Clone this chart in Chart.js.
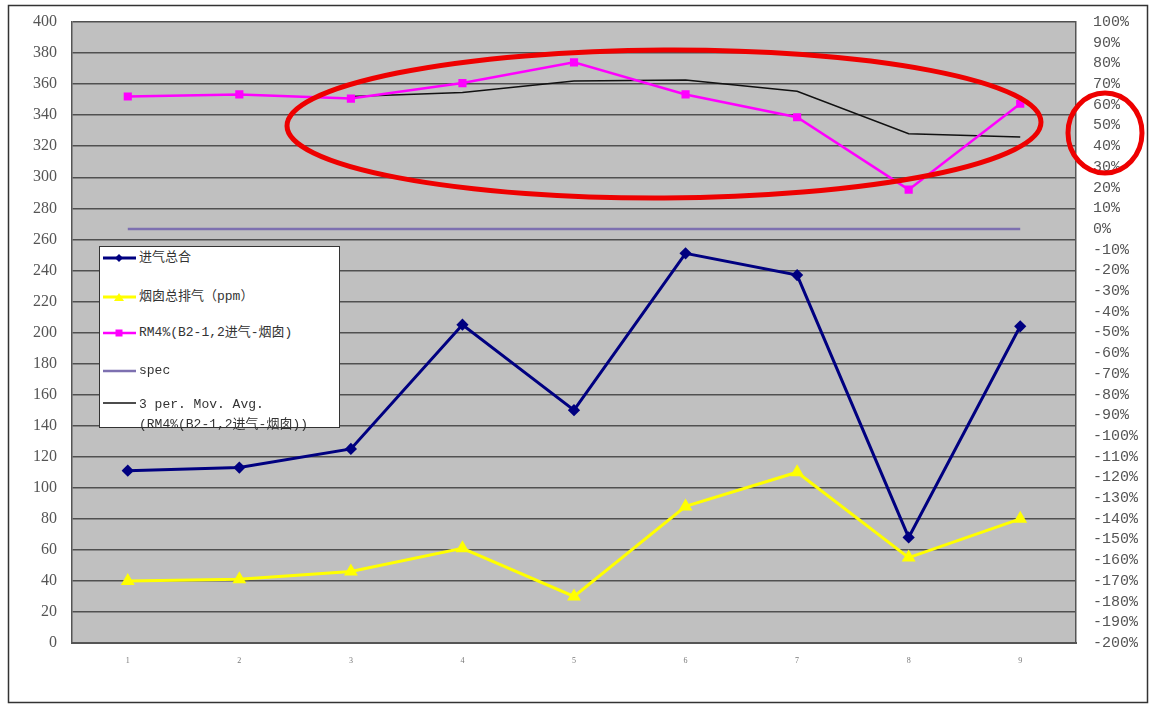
<!DOCTYPE html>
<html>
<head>
<meta charset="utf-8">
<script src="https://cdn.jsdelivr.net/npm/chart.js@4.4.1/dist/chart.umd.min.js"></script>
<style>
  body { margin: 0; background: #fff; }
  #wrap { position: relative; width: 1149px; height: 704px; }
  #legend {
    position: absolute; left: 99px; top: 246px; width: 241px; height: 182px;
    background: #fff; border: 1px solid #333; box-sizing: border-box;
    font-family: "Liberation Mono", "Noto Sans CJK SC", monospace; font-size: 13px; color: #333;
  }
  .item { position: absolute; left: 3px; line-height: 16px; white-space: nowrap; }
  .item svg { vertical-align: middle; margin-right: 3px; }
</style>
</head>
<body>
<div id="wrap">
  <canvas id="chart" width="1149" height="704"></canvas>
  <div id="legend"></div>
</div>
<script>
"use strict";

const categories = ["1", "2", "3", "4", "5", "6", "7", "8", "9"];
const intakeTotal = [111, 113, 125, 205, 150, 251, 237, 68, 204];
const stackTotal = [40, 41, 46, 61, 30, 88, 110, 55, 80];
const rm4Percent = [64, 65, 63, 70.5, 80.5, 65, 54, 19, 60.5];
const specPercent = [0, 0, 0, 0, 0, 0, 0, 0, 0];
const movAvgPercent = [null, null, 64, 66, 71.5, 72, 66.5, 46, 44.5];

const leftTicks = { min: 0, max: 400, step: 20 };
const rightTicks = { min: -200, max: 100, step: 10 };

const legendNames = [
  "进气总合",
  "烟囱总排气（ppm）",
  "RM4%(B2-1,2进气-烟囱)",
  "spec",
  "3 per. Mov. Avg.<br>(RM4%(B2-1,2进气-烟囱))"
];

// plot background, outer frame
const framePlugin = {
  id: "frame",
  beforeDraw(chart) {
    const c = chart.ctx, a = chart.chartArea;
    c.save();
    c.fillStyle = "#fff";
    c.fillRect(0, 0, chart.width, chart.height);
    c.fillStyle = "#c0c0c0";
    c.fillRect(a.left, a.top, a.right - a.left, a.bottom - a.top);
    c.strokeStyle = "#333";
    c.lineWidth = 1.5;
    c.strokeRect(8.5, 5.5, 1139, 697);
    c.restore();
  },
  afterDraw(chart) {
    // red hand-drawn marks on the picture
    const c = chart.ctx;
    c.save();
    c.strokeStyle = "#ee0000";
    c.lineWidth = 5;
    c.beginPath();
    c.ellipse(664, 124, 377, 74, -0.005, 0, Math.PI * 2);
    c.stroke();
    c.beginPath();
    c.ellipse(1105, 133, 37, 40, 0, 0, Math.PI * 2);
    c.stroke();
    c.restore();
  }
};

function fixWidth(w) {
  return s => { s.width = w; s.paddingTop = 0; s.paddingBottom = 0; };
}

var ctx = document.getElementById("chart").getContext("2d");
var chart = new Chart(ctx, {
  type: "line",
  data: {
    labels: categories,
    datasets: [
      {
        label: legendNames[0],
        data: intakeTotal,
        yAxisID: "y",
        borderColor: "#000080",
        backgroundColor: "#000080",
        borderWidth: 3,
        pointStyle: "rectRot",
        pointRadius: 4,
        order: 3
      },
      {
        label: legendNames[1],
        data: stackTotal,
        yAxisID: "y",
        borderColor: "#ffff00",
        backgroundColor: "#ffff00",
        borderWidth: 3,
        pointStyle: "triangle",
        pointRadius: 5,
        order: 4
      },
      {
        label: legendNames[2],
        data: rm4Percent,
        yAxisID: "y1",
        borderColor: "#ff00ff",
        backgroundColor: "#ff00ff",
        borderWidth: 2.5,
        pointStyle: "rect",
        pointRadius: 4,
        order: 1
      },
      {
        label: legendNames[3],
        data: specPercent,
        yAxisID: "y1",
        borderColor: "#7d70b0",
        borderWidth: 2.5,
        pointRadius: 0,
        order: 5
      },
      {
        label: "3 per. Mov. Avg.",
        data: movAvgPercent,
        yAxisID: "y1",
        borderColor: "#111",
        borderWidth: 1.5,
        pointRadius: 0,
        order: 2
      }
    ]
  },
  options: {
    responsive: false,
    animation: false,
    devicePixelRatio: 1,
    layout: { padding: { top: 22, left: 0, right: 0, bottom: 0 } },
    plugins: { legend: { display: false }, tooltip: { enabled: false } },
    scales: {
      x: {
        offset: true,
        grid: { display: false, drawTicks: false },
        border: { color: "#555", width: 2 },
        ticks: { padding: 13, color: "#777", font: { family: "Liberation Serif", size: 8 } },
        afterFit: s => { s.height = 61; }
      },
      y: {
        position: "left",
        min: leftTicks.min,
        max: leftTicks.max,
        grid: { color: "#505050", lineWidth: 1.5, drawTicks: false },
        border: { color: "#555", width: 1.5 },
        ticks: {
          stepSize: leftTicks.step,
          autoSkip: false,
          padding: 15,
          color: "#555",
          font: { family: "Liberation Serif", size: 16 }
        },
        afterFit: fixWidth(72)
      },
      y1: {
        position: "right",
        min: rightTicks.min,
        max: rightTicks.max,
        grid: { drawOnChartArea: false, drawTicks: false },
        border: { color: "#555", width: 1.5 },
        ticks: {
          stepSize: rightTicks.step,
          autoSkip: false,
          padding: 17,
          color: "#555",
          font: { family: "Liberation Mono", size: 15 },
          callback: v => v + "%"
        },
        afterFit: fixWidth(73)
      }
    }
  },
  plugins: [framePlugin]
});

// legend box drawn as html, from the chart's datasets
function sampleSvg(ds) {
  const col = ds.borderColor;
  let mark = "";
  if (ds.pointStyle === "rectRot") mark = '<polygon points="16,1 20,5 16,9 12,5" fill="' + col + '"/>';
  if (ds.pointStyle === "triangle") mark = '<polygon points="16,1 21,9 11,9" fill="' + col + '"/>';
  if (ds.pointStyle === "rect") mark = '<rect x="12.5" y="1.5" width="7" height="7" fill="' + col + '"/>';
  return '<svg width="33" height="10"><line x1="0" y1="5" x2="33" y2="5" stroke="' + col +
    '" stroke-width="' + ds.borderWidth + '"/>' + mark + '</svg>';
}
const legendTops = [3, 42, 78, 116, 150];
const legendEl = document.getElementById("legend");
chart.data.datasets.forEach((ds, i) => {
  const div = document.createElement("div");
  div.className = "item";
  div.style.top = legendTops[i] + "px";
  if (i === 4) {
    div.innerHTML = sampleSvg(ds) + '<span style="display:inline-block;vertical-align:top;margin-top:-3px;line-height:20px">' + legendNames[i] + '</span>';
    div.style.top = (legendTops[i] + 1) + "px";
    div.querySelector("svg").style.verticalAlign = "top";
  } else {
    div.innerHTML = sampleSvg(ds) + legendNames[i];
  }
  legendEl.appendChild(div);
});
</script>
</body>
</html>
